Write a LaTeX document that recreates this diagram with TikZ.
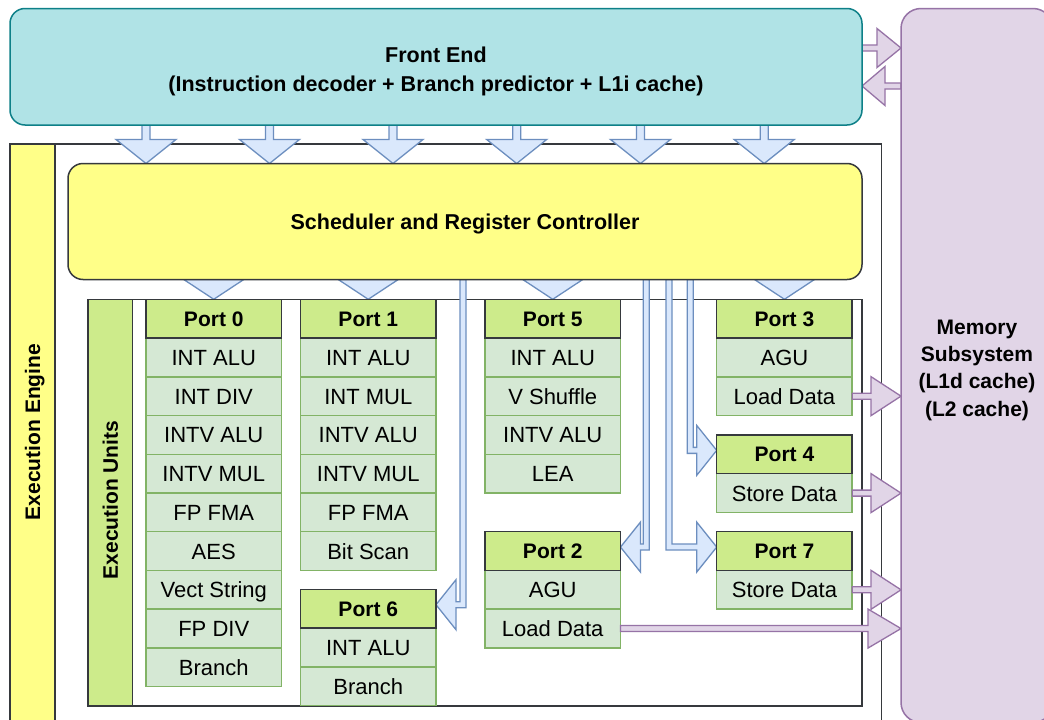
\documentclass[tikz,border=0pt]{standalone}
\usepackage{fontspec}
\setmainfont{Liberation Sans}
\usetikzlibrary{calc}

\definecolor{feFill}{HTML}{B0E3E6}
\definecolor{feLine}{HTML}{0E8088}
\definecolor{yel}{HTML}{FFFF88}
\definecolor{dark}{HTML}{36393D}
\definecolor{lime}{HTML}{CDEB8B}
\definecolor{cellFill}{HTML}{D5E8D4}
\definecolor{cellLine}{HTML}{82B366}
\definecolor{memFill}{HTML}{E1D5E7}
\definecolor{memLine}{HTML}{9673A6}
\definecolor{arrFill}{HTML}{DAE8FC}
\definecolor{arrLine}{HTML}{6C8EBF}

% one port: header cell followed by its execution units
\newcommand\portcolumn[5]{%
  \node[porthead] (#1h) at (#2,#3) {#4};
  \foreach \u [count=\i] in {#5} {
    \node[unit] (#1c\i) at (#2,{#3+\i*38.74}) {\u};
  }
}

% straight downward block arrow between two points
\newcommand\downblock[2]{%
  \filldraw[bluearrow] ($(#1)+(-4,0)$) -- ($(#2)+(-4,-24)$) -- ($(#2)+(-30,-24)$)
    -- (#2) -- ($(#2)+(30,-24)$) -- ($(#2)+(4,-24)$) -- ($(#1)+(4,0)$) -- cycle;
}

% arrow head only, from the scheduler down to a port header
\newcommand\headonly[1]{%
  \coordinate (ht) at (#1.north);
  \coordinate (hb) at (ht |- sched.south);
  \filldraw[bluearrow] ($(hb)+(-30,0)$) -- (ht) -- ($(hb)+(30,0)$) -- cycle;
}

% bent block arrow: down from the scheduler along shaft #1, then sideways to #2
% #3 = 1 for rightwards, -1 for leftwards
\newcommand\bendblock[3]{%
  \coordinate (bt) at ($(#2)+(0,-4)$);
  \coordinate (bs) at (#1 |- sched.south);
  \coordinate (bc) at (#1 |- bt);
  \filldraw[bluearrow] ($(bs)+({-3*(#3)},0)$) -- ($(bc)+({-3*(#3)},3)$)
    -- ($(bt)+({-20*(#3)},3)$) -- ($(bt)+({-20*(#3)},25)$) -- (bt)
    -- ($(bt)+({-20*(#3)},-25)$) -- ($(bt)+({-20*(#3)},-3)$)
    -- ($(bc)+({3*(#3)},-3)$) -- ($(bs)+({3*(#3)},0)$) -- cycle;
}

% horizontal purple block arrow, #3 = head length (negative points left)
\newcommand\hblock[3]{%
  \filldraw[purplearrow] ($(#1)+(0,-3)$) -- ($(#2)+({-(#3)},-3)$) -- ($(#2)+({-(#3)},-19.5)$)
    -- (#2) -- ($(#2)+({-(#3)},19.5)$) -- ($(#2)+({-(#3)},3)$) -- ($(#1)+(0,3)$) -- cycle;
}

\begin{document}
\begin{tikzpicture}[x=1pt,y=-1pt,line width=1.5pt,
  box/.style={draw, anchor=north west, inner sep=0pt, outer sep=0pt},
  title/.style={font=\fontsize{21.5}{28.5}\selectfont\bfseries, align=center},
  vlabel/.style={rotate=90, inner sep=0pt, text height=15pt, text depth=0pt,
    font=\fontsize{21}{25}\selectfont\bfseries},
  unit/.style={box, draw=cellLine, fill=cellFill, minimum width=135.5pt,
    minimum height=38.74pt, text height=15.8pt, text depth=0pt,
    font=\fontsize{22}{26}\selectfont},
  porthead/.style={box, draw=dark, fill=lime, minimum width=135.5pt,
    minimum height=38.74pt, text height=15pt, text depth=0pt,
    font=\fontsize{21}{25}\selectfont\bfseries},
  bluearrow/.style={draw=arrLine, fill=arrFill, line width=1.3pt},
  purplearrow/.style={draw=memLine, fill=memFill, line width=1.3pt},
]
\clip (0,0) rectangle (1044,720);
\fill[white] (0,0) rectangle (1044,720);

% execution engine container
\node[box, draw=dark, fill=white, minimum width=871.7pt, minimum height=590pt] (engine) at (10,144) {};
\node[box, draw=dark, fill=yel, minimum width=45pt, minimum height=590pt] (engstrip) at (10,144) {};
\node[vlabel] (englabel) at (32.5,432) {Execution Engine};

% execution units container
\node[box, draw=dark, fill=white, minimum width=774pt, minimum height=406.5pt] (units) at (88,299.3) {};
\node[box, draw=dark, fill=lime, minimum width=44.5pt, minimum height=406.5pt] (unitstrip) at (88,299.3) {};
\node[vlabel] (unitlabel) at (110.3,500) {Execution Units};

% outlines of the main blocks, used by the arrows before the blocks are painted
\node[box, minimum width=852pt, minimum height=116.5pt, draw=none] (fe) at (10,8.5) {};
\node[box, minimum width=794pt, minimum height=116pt, draw=none] (sched) at (68,163.5) {};
\node[box, minimum width=152pt, minimum height=714pt, draw=none] (mem) at (901,8.5) {};

% ports and execution units
\portcolumn{p0}{146}{299.3}{Port 0}{INT ALU, INT DIV, INTV ALU, INTV MUL, FP FMA, AES, Vect String, FP DIV, Branch}
\portcolumn{p1}{300.5}{299.3}{Port 1}{INT ALU, INT MUL, INTV ALU, INTV MUL, FP FMA, Bit Scan}
\portcolumn{p5}{485}{299.3}{Port 5}{INT ALU, V Shuffle, INTV ALU, LEA}
\portcolumn{p3}{716.7}{299.3}{Port 3}{AGU, Load Data}
\portcolumn{p4}{716.7}{435}{Port 4}{Store Data}
\portcolumn{p7}{716.7}{531.7}{Port 7}{Store Data}
\portcolumn{p2}{485}{531.7}{Port 2}{AGU, Load Data}
\portcolumn{p6}{300.5}{589.3}{Port 6}{INT ALU, Branch}

% front end -> scheduler
\foreach \cx in {146,269.5,393,516.7,640.5,764.2} {
  \coordinate (fa) at (\cx,0);
  \coordinate (fa1) at (fe.south -| fa);
  \coordinate (fa2) at (sched.north -| fa);
  \downblock{fa1}{fa2}
}

% scheduler -> directly attached ports
\foreach \p in {p0,p1,p5,p3} { \headonly{\p h} }

% scheduler -> ports reached by bent arrows
\coordinate (x6) at (463,0);
\coordinate (x2) at (646.3,0);
\coordinate (x7) at (669,0);
\coordinate (x4) at (690.3,0);
\bendblock{x6}{p6h.east}{-1}
\bendblock{x2}{p2h.east}{-1}
\bendblock{x7}{p7h.west}{1}
\bendblock{x4}{p4h.west}{1}

% front end <-> memory subsystem
\coordinate (y1) at (0,48);
\coordinate (y2) at (0,86);
\coordinate (fm1) at (fe.east |- y1);
\coordinate (fm2) at (mem.west |- y1);
\coordinate (mf1) at (mem.west |- y2);
\coordinate (mf2) at (fe.east |- y2);
\hblock{fm1}{fm2}{24}
\hblock{mf1}{mf2}{-23}

% load / store data -> memory subsystem
\coordinate (m3) at (mem.west |- p3c2.east);
\coordinate (m4) at (mem.west |- p4c1.east);
\coordinate (m7) at (mem.west |- p7c1.east);
\coordinate (m2) at (mem.west |- p2c2.east);
\hblock{p3c2.east}{m3}{30}
\hblock{p4c1.east}{m4}{30}
\hblock{p7c1.east}{m7}{30}
\hblock{p2c2.east}{m2}{33}

% main blocks painted on top
\node[box, draw=feLine, fill=feFill, rounded corners=15pt, minimum width=852pt,
  minimum height=116.5pt] (febox) at (10,8.5) {};
\node[title] (felabel) at (436,71.5)
  {Front End\\(Instruction decoder + Branch predictor + L1i cache)};
\node[box, draw=dark, fill=yel, rounded corners=15pt, minimum width=794pt,
  minimum height=116pt] (schedbox) at (68,163.5) {};
\node[title, text height=15pt, text depth=0pt] (schedlabel) at (465,221.5)
  {Scheduler and Register Controller};
\node[box, draw=memLine, fill=memFill, rounded corners=20pt, minimum width=152pt,
  minimum height=714pt] (membox) at (901,8.5) {};
\node[title, font=\fontsize{21}{27.3}\selectfont\bfseries] (memlabel) at (977,370)
  {Memory\\Subsystem\\(L1d cache)\\(L2 cache)};

% repaint port headers so arrow tips sit beneath their borders
\foreach \p/\t in {p0/Port 0,p1/Port 1,p5/Port 5,p3/Port 3,p4/Port 4,p7/Port 7,p2/Port 2,p6/Port 6} {
  \node[porthead] at (\p h.north west) {\t};
}
\end{tikzpicture}
\end{document}
